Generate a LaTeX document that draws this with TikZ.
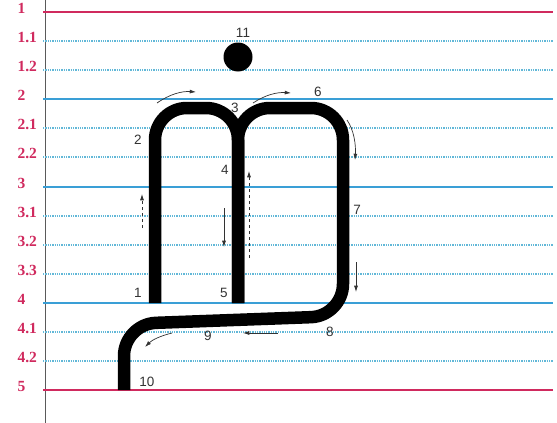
\documentclass[tikz,border=0pt]{standalone}
\usepackage{fontspec}
\setmainfont{Liberation Serif}
\setsansfont{Liberation Sans}
\usetikzlibrary{arrows.meta}
\definecolor{rosa}{HTML}{D02A5E}
\definecolor{blau}{HTML}{3A9FD6}
\definecolor{hblau}{HTML}{62B8D8}
\definecolor{grau}{HTML}{333333}
\definecolor{rand}{HTML}{5A5A5A}
\tikzset{
  rotlinie/.style={rosa,line width=2pt},
  hauptlinie/.style={blau,line width=1.8pt},
  hilfslinie/.style={hblau,line width=1.2pt,dash pattern=on 1.3pt off 1pt},
  stufe/.style={rosa,anchor=base west,font=\fontsize{15.5}{15.5}\selectfont\bfseries},
  ziffer/.style={grau,font=\sffamily\fontsize{13.5}{13.5}\selectfont},
  zug/.style={line width=12.5pt,line join=round,rounded corners=32pt},
  pfeil/.style={-{Latex[length=2.2mm,width=1.4mm]},grau,line width=0.7pt},
  pfeilg/.style={pfeil,dashed},
}

\begin{document}
\begin{tikzpicture}[x=1pt,y=-1pt]
  \useasboundingbox (0,0) rectangle (557,423);
  \draw[rand,line width=0.8pt] (45,0)--(45,423);
  \foreach \lab/\y/\st [count=\i] in {1/12/rotlinie, 1.1/41/hilfslinie, 1.2/70/hilfslinie,
      2/99/hauptlinie, 2.1/128/hilfslinie, 2.2/157/hilfslinie, 3/187/hauptlinie,
      3.1/216/hilfslinie, 3.2/245/hilfslinie, 3.3/274/hilfslinie, 4/303/hauptlinie,
      4.1/332/hilfslinie, 4.2/361/hilfslinie, 5/390/rotlinie} {
    \draw[\st] (43,\y)--(553,\y);
    \node[stufe] (stufe\i) at (14,\y+1) {\lab};
  }
  % Buchstabe
  \draw[zug] (155,303)--(155,108)--(238,108)--(238,303);
  \draw[zug] (238,303)--(238,108)--(343,108)--(343,316)--(124,324)--(124,390);
  \fill (238,57) circle (14.5pt);
  % Schreibrichtung
  \draw[pfeil] (157,103) .. controls (170,94) and (182,91) .. (196,92);
  \draw[pfeil] (253,103) .. controls (265,95) and (277,92) .. (291,93);
  \draw[pfeil] (347,120) .. controls (354,130) and (356,145) .. (355,160);
  \draw[pfeilg] (142,228)--(142,194);
  \draw[pfeil] (224,208)--(224,247);
  \draw[pfeilg] (249,258)--(249,171);
  \draw[pfeil] (356,262)--(356,292);
  \draw[pfeil] (278,333)--(243,333);
  \draw[pfeil] (172,333) .. controls (160,336) and (152,340) .. (145,347);
  % Nummern
  \node[ziffer] (n1) at (138,293) {1};
  \node[ziffer] (n2) at (138,140) {2};
  \node[ziffer] (n3) at (235,108) {3};
  \node[ziffer] (n4) at (225,170) {4};
  \node[ziffer] (n5) at (224,293) {5};
  \node[ziffer] (n6) at (318,92) {6};
  \node[ziffer] (n7) at (357,210) {7};
  \node[ziffer] (n8) at (330,332) {8};
  \node[ziffer] (n9) at (208,336) {9};
  \node[ziffer] (n10) at (147,382) {10};
  \node[ziffer] (n11) at (243,33) {11};
\end{tikzpicture}
\end{document}
